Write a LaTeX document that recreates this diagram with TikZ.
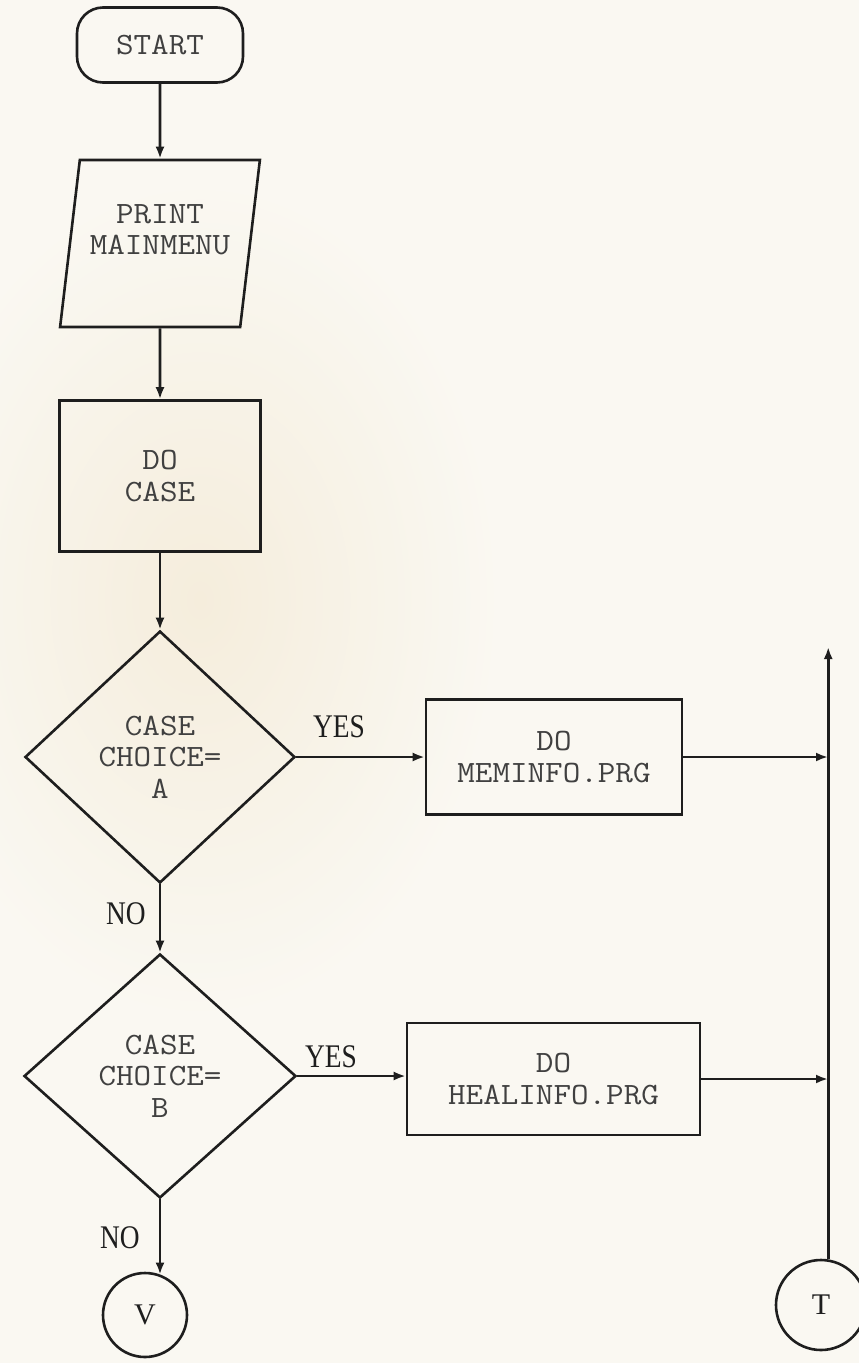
\documentclass[tikz,border=0pt]{standalone}
\usepackage{fontspec}
\setmonofont{Latin Modern Mono}[FakeStretch=1.1]
\newfontfamily\labelfont[FakeStretch=0.83]{Liberation Serif}
\newfontfamily\circfont{Liberation Serif}
\usetikzlibrary{shapes.geometric,arrows.meta,calc}
\definecolor{paper}{RGB}{250,248,242}
\definecolor{stain}{RGB}{245,237,220}
\definecolor{ink}{RGB}{30,30,30}

\begin{document}
\begin{tikzpicture}[x=1pt,y=-1pt,
  every node/.style={font=\ttfamily\fontsize{31}{31.5}\selectfont, align=center, text=ink!85},
  shp/.style={draw=ink, line width=2.6pt, inner sep=0pt},
  terminal/.style={shp, rectangle, rounded corners=26pt, minimum width=166pt, minimum height=75pt},
  io/.style={shp, trapezium, trapezium left angle=77.5, trapezium right angle=102.5,
             trapezium stretches=true, minimum width=200pt, minimum height=167pt},
  proc/.style={shp, rectangle},
  decision/.style={shp, diamond},
  joint/.style={shp, circle, font=\circfont\fontsize{30}{30}\selectfont, text=ink},
  flow/.style={draw=ink, line width=2.6pt, -{Latex[length=12pt,width=9pt]}},
  tag/.style={font=\labelfont\fontsize{33}{33}\selectfont, text=ink}
]
% paper with a faint warm tint on the left
\useasboundingbox (0,0) rectangle (859,1363);
\fill[paper] (0,0) rectangle (859,1363);
\shade[inner color=stain, outer color=paper] (200,600) ellipse (300 and 420);

% shapes (the empty last line in the input box lifts its text a little)
\node[terminal] (start) at (160,45) {START};
\node[io] (print) at (160,243.5) {PRINT\\MAINMENU\\[-4pt]\mbox{}};
\node[proc, minimum width=201pt, minimum height=151pt] (docase) at (160,476) {DO\\CASE};
\node[decision, minimum width=270pt, minimum height=252pt] (caseA) at (160,757) {CASE\\CHOICE=\\A};
\node[proc, minimum width=256pt, minimum height=115pt] (mem) at (554,757) {DO\\MEMINFO.PRG};
\node[decision, minimum width=272pt, minimum height=244pt] (caseB) at (160,1076) {CASE\\CHOICE=\\B};
\node[proc, minimum width=293pt, minimum height=112pt] (heal) at (553.5,1079) {DO\\HEALINFO.PRG};
\node[joint, minimum size=84pt] (V) at (145,1315) {V};
\node[joint, minimum size=90pt] (T) at (821,1305) {T};
\coordinate (bustop) at (828,647);

% connectors
\draw[flow] (start.south) -- (print.north);
\draw[flow] (print.south) -- (docase.north);
\draw[flow] (docase.south) -- (caseA.north);
\draw[flow] (caseA.east) -- (caseA.east -| mem.west);
\draw[flow] (caseA.south) -- (caseB.north);
\draw[flow] (caseB.east) -- (caseB.east -| heal.west);
\draw[flow] (caseB.south) -- (caseB.south |- V.69);
\draw[flow] (mem.east) -- (mem.east -| bustop);
\draw[flow] (heal.east) -- (heal.east -| bustop);
\draw[flow] (T.81) -- (T.81 |- bustop);

% branch labels
\node[tag] (yesA) at (339,727) {YES};
\node[tag] (noA) at (126,914) {NO};
\node[tag] (yesB) at (331,1057) {YES};
\node[tag] (noB) at (120,1238) {NO};
\end{tikzpicture}
\end{document}
